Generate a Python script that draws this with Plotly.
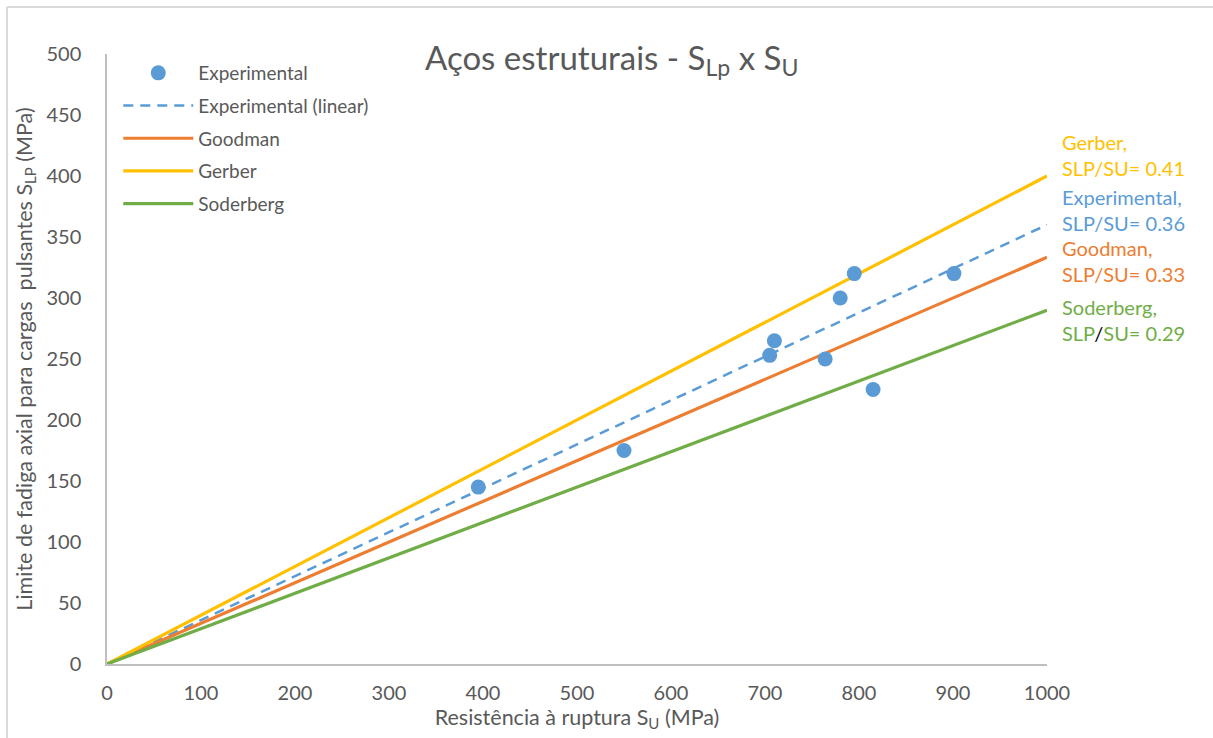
import plotly.graph_objects as go

# Experimental data (MPa)
su_exp = [395, 550, 705, 710, 764, 780, 795, 815, 901]
slp_exp = [145, 175, 253, 265, 250, 300, 320, 225, 320]

# Criterion lines, SLP = ratio * SU
su_line = [0, 1000]
ratio_exp = 0.36
ratio_goodman = 1 / 3
ratio_gerber = 0.40
ratio_soderberg = 0.29

x_ticks = [0, 100, 200, 300, 400, 500, 600, 700, 800, 900, 1000]
y_ticks = [0, 50, 100, 150, 200, 250, 300, 350, 400, 450, 500]

BLUE = "#5B9BD5"
ORANGE = "#ED7D31"
YELLOW = "#FFC000"
GREEN = "#70AD47"
GREY = "#595959"
FONT = "Lato"

fig = go.Figure()

fig.add_trace(go.Scatter(
    x=su_line, y=[ratio_exp * v for v in su_line], mode="lines",
    name="Experimental (linear)", legendgroup="b", legendrank=2,
    line=dict(color=BLUE, width=2.5, dash="10px,7px")))
fig.add_trace(go.Scatter(
    x=su_line, y=[ratio_goodman * v for v in su_line], mode="lines",
    name="Goodman", legendgroup="c", legendrank=3,
    line=dict(color=ORANGE, width=3.2)))
fig.add_trace(go.Scatter(
    x=su_line, y=[ratio_gerber * v for v in su_line], mode="lines",
    name="Gerber", legendgroup="d", legendrank=4,
    line=dict(color=YELLOW, width=3.2)))
fig.add_trace(go.Scatter(
    x=su_line, y=[ratio_soderberg * v for v in su_line], mode="lines",
    name="Soderberg", legendgroup="e", legendrank=5,
    line=dict(color=GREEN, width=3.2)))
fig.add_trace(go.Scatter(
    x=su_exp, y=slp_exp, mode="markers", name="Experimental",
    legendgroup="a", legendrank=1,
    marker=dict(color=BLUE, size=15, line=dict(width=0))))

# Right-side labels (y = vertical centre of each label block)
labels = [
    (YELLOW, "Gerber,<br>SLP/SU= 0.41", 417),
    (BLUE, "Experimental,<br>SLP/SU= 0.36", 372),
    (ORANGE, "Goodman,<br>SLP/SU= 0.33", 330),
    (GREEN, "Soderberg,<br>SLP<span style='color:black'>/</span>SU= 0.29", 282),
]
for col, txt, ypos in labels:
    fig.add_annotation(
        x=1000, y=ypos, xref="x", yref="y", text=txt, showarrow=False,
        xanchor="left", yanchor="middle", xshift=13, align="left",
        font=dict(family=FONT, size=20, color=col))

fig.update_layout(
    width=1213, height=738,
    margin=dict(l=107, r=166, t=54, b=74),
    paper_bgcolor="white", plot_bgcolor="white",
    font=dict(family=FONT, color=GREY),
    title=dict(
        text="Aços estruturais - S<sub>Lp</sub> x S<sub>U</sub>",
        x=0.537, xanchor="center", xref="paper",
        y=1 - 58 / 738, yanchor="middle", yref="container",
        font=dict(family=FONT, size=33, color=GREY)),
    legend=dict(
        x=0.012, y=1.0, xanchor="left", yanchor="top",
        font=dict(family=FONT, size=19, color=GREY),
        bgcolor="rgba(0,0,0,0)", traceorder="grouped", tracegroupgap=5,
        itemwidth=70),
    xaxis=dict(
        range=[0, 1000], tickvals=x_ticks, showgrid=False, zeroline=False,
        showline=True, linecolor="#BFBFBF", linewidth=1.5, ticks="",
        ticklabelstandoff=10,
        tickfont=dict(family=FONT, size=20, color=GREY),
        title=dict(text="Resistência à ruptura S<sub>U</sub> (MPa)",
                   font=dict(family=FONT, size=21.5, color=GREY), standoff=7)),
    yaxis=dict(
        range=[0, 500], tickvals=y_ticks, showgrid=False, zeroline=False,
        showline=True, linecolor="#BFBFBF", linewidth=1.5, ticks="",
        ticklabelstandoff=20,
        tickfont=dict(family=FONT, size=20, color=GREY),
        title=dict(text="Limite de fadiga axial para cargas  pulsantes S<sub>LP</sub> (MPa)",
                   font=dict(family=FONT, size=21.5, color=GREY), standoff=8)),
)

# Chart-area frame (top and left edges visible)
fig.add_shape(type="line", xref="paper", yref="paper",
              x0=-100 / 940, x1=1.2, y0=1 + 47 / 610, y1=1 + 47 / 610,
              line=dict(color="#D9D9D9", width=2))
fig.add_shape(type="line", xref="paper", yref="paper",
              x0=-100 / 940, x1=-100 / 940, y0=1 + 47 / 610, y1=-0.2,
              line=dict(color="#D9D9D9", width=2))

fig.write_html("out.html")
